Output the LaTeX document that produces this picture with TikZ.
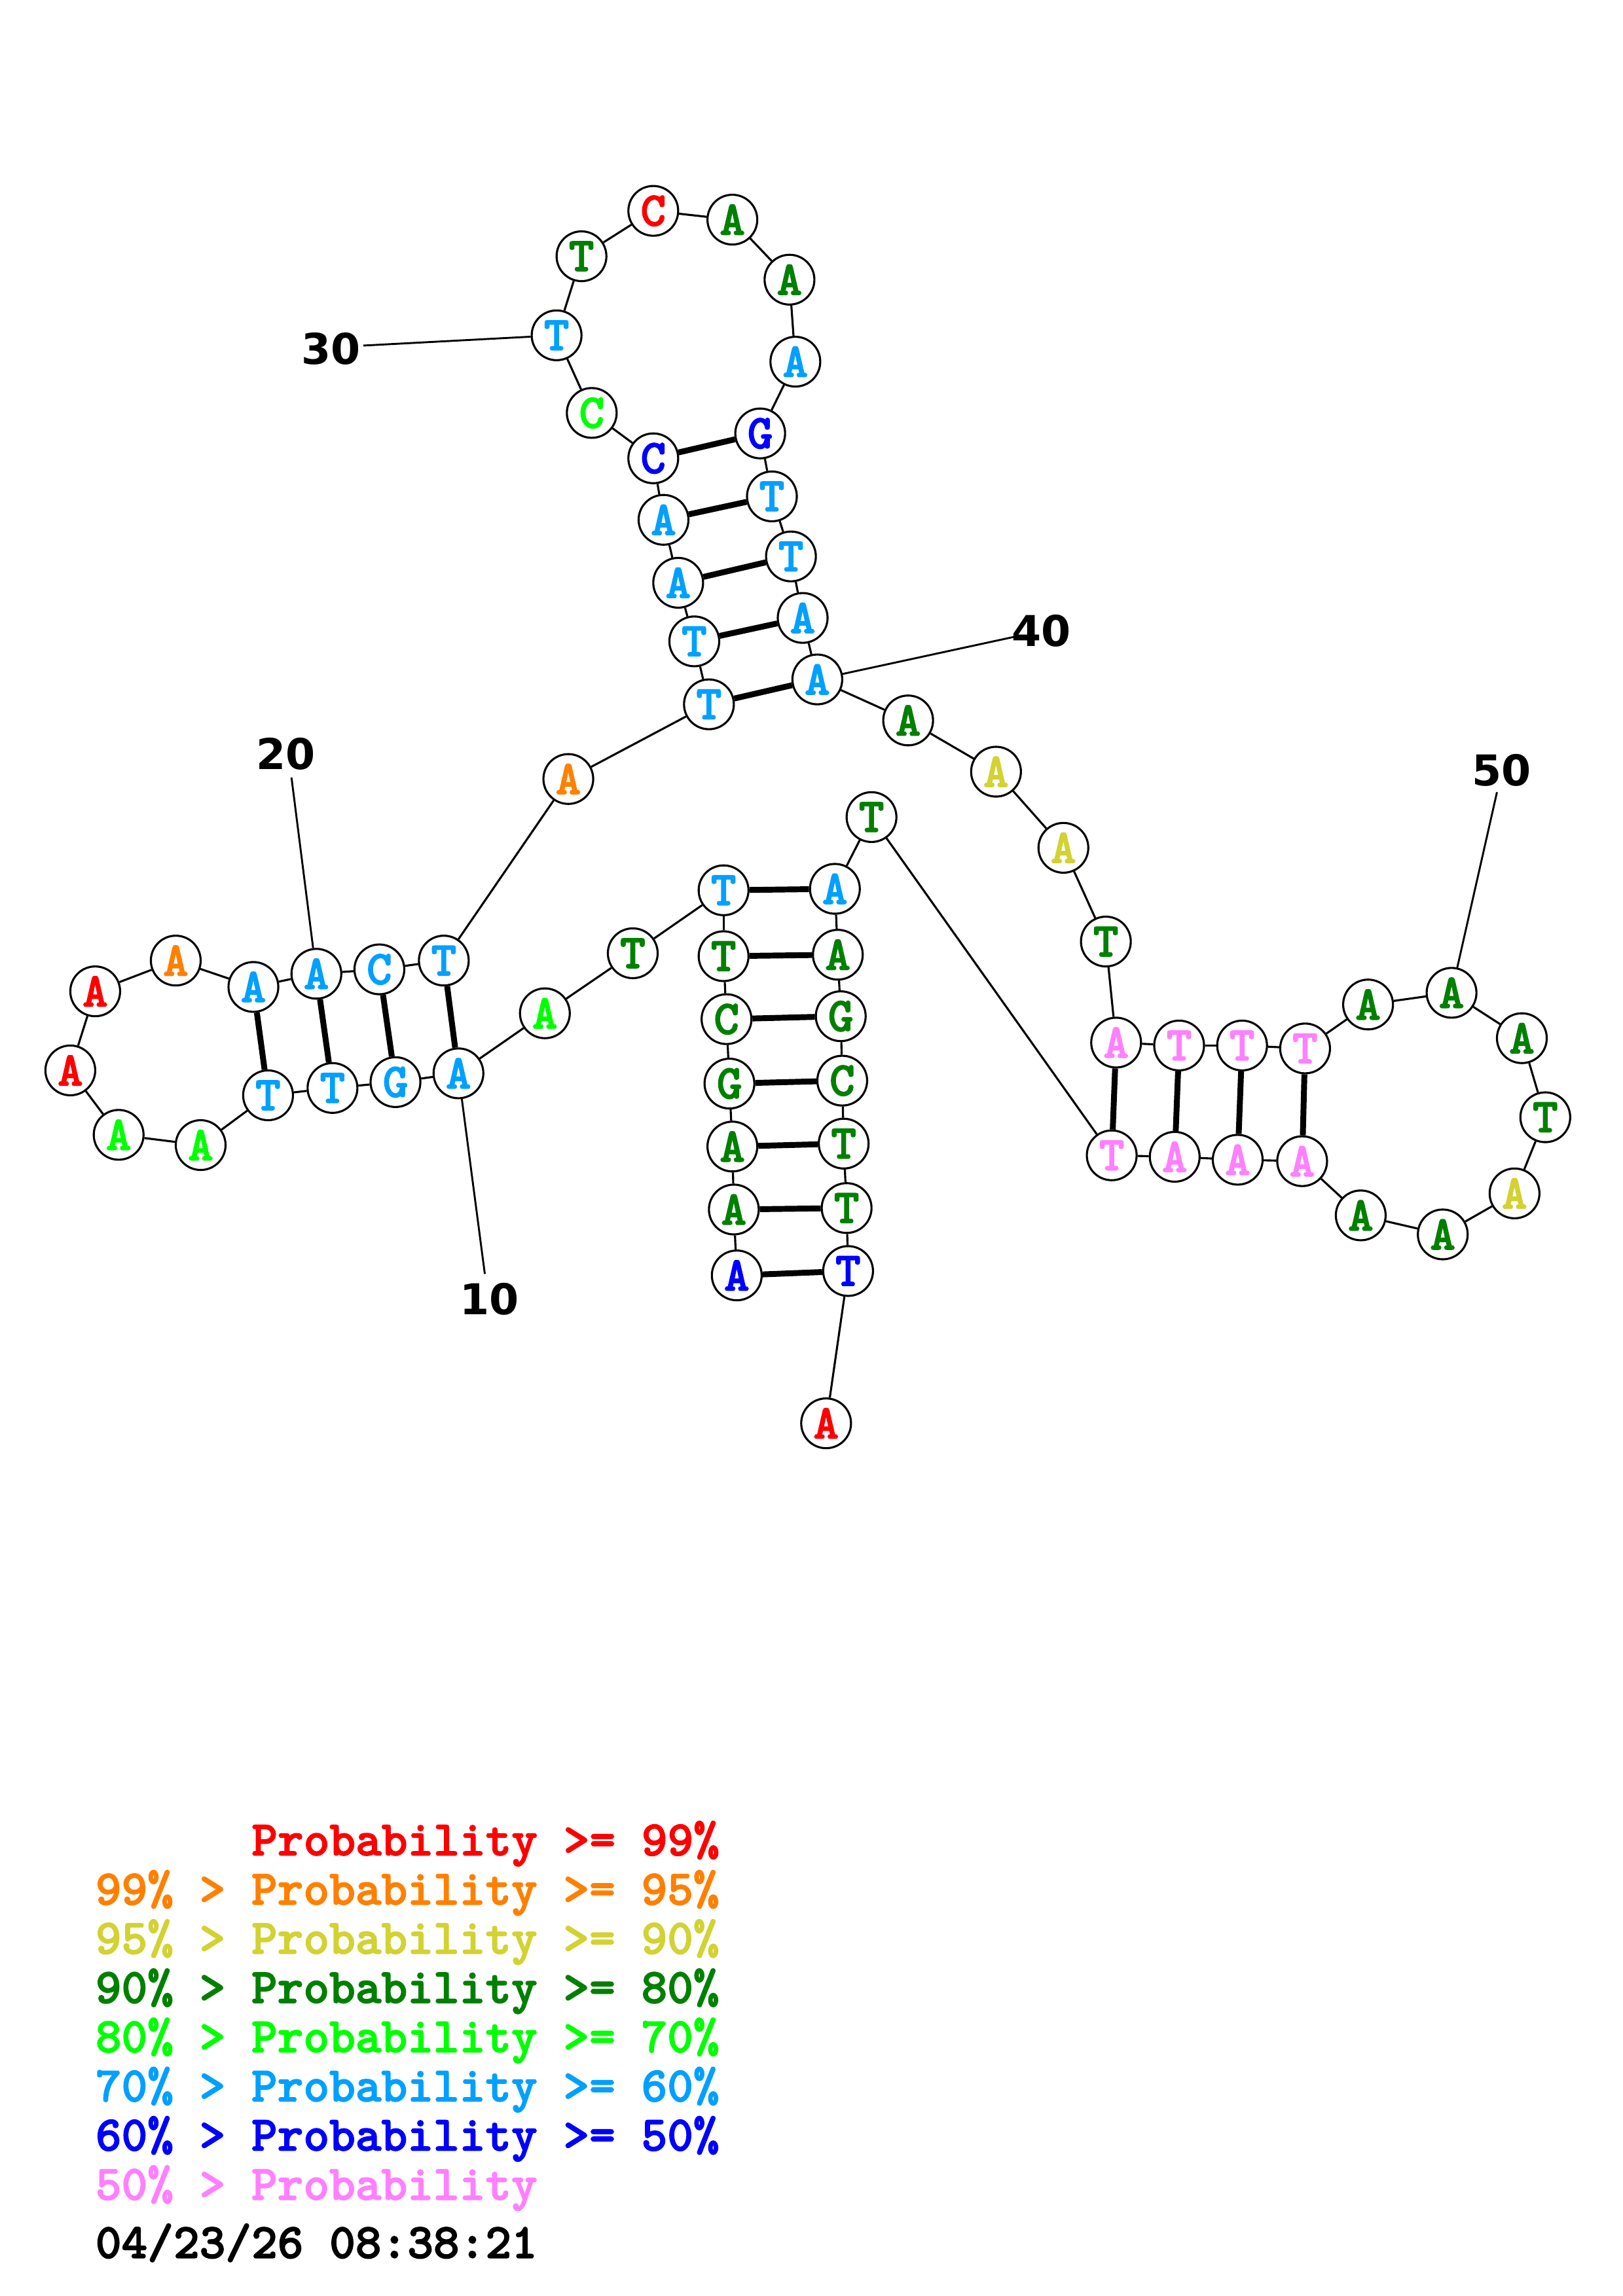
\documentclass[tikz,border=0pt]{standalone}
\usepackage{fontspec}
\newfontfamily\numf{DejaVu Sans}
\newfontfamily\courb{lmmonolt10-bold}[Extension=.otf,FakeBold=2]
\definecolor{cR}{RGB}{255,0,0}
\definecolor{cO}{RGB}{255,128,0}
\definecolor{cY}{RGB}{210,210,50}
\definecolor{cDG}{RGB}{0,128,0}
\definecolor{cG}{RGB}{0,255,0}
\definecolor{cLB}{RGB}{0,160,255}
\definecolor{cB}{RGB}{0,0,255}
\definecolor{cP}{RGB}{255,128,255}
\tikzset{
  nt/.style={circle,draw=black,line width=1.4pt,fill=white,minimum size=34pt,inner sep=0pt,
    font=\courb\fontsize{33}{33}\selectfont},
  bb/.style={line width=1.4pt,black},
  pairl/.style={line width=4pt,black},
  lbl/.style={line width=1.3pt,black},
  numl/.style={font=\numf\bfseries\fontsize{29}{29}\selectfont,inner sep=0pt},
  leg/.style={font=\courb\fontsize{33.8}{33.8}\selectfont,inner sep=0pt,anchor=base west}
}
\begin{document}
\begin{tikzpicture}[x=1pt,y=-1pt]
\useasboundingbox[fill=white] (0,0) rectangle (1108,1568);
\foreach \i/\x/\y/\b/\c in {
1/503/871/A/cB, 2/501/826/A/cDG, 3/500/783/A/cDG, 4/498/740/G/cDG, 5/496/696/C/cDG,
6/494/653/T/cDG, 7/494/608/T/cLB, 8/432/651/T/cDG, 9/372/692/A/cG, 10/313/733/A/cLB,
11/270/739/G/cLB, 12/227/743/T/cLB, 13/183/748/T/cLB, 14/137/782/A/cG, 15/81/775/A/cG,
16/48/731/A/cR, 17/65/677/A/cR, 18/120/656/A/cO, 19/173/674/A/cLB, 20/216/665/A/cLB,
21/259/662/C/cLB, 22/303/656/T/cLB, 23/388/532/A/cO, 24/484/481/T/cLB, 25/474/438/T/cLB,
26/463/398/A/cLB, 27/453/355/A/cLB, 28/446/313/C/cB, 29/404/282/C/cG, 30/380/229/T/cLB,
31/397/175/T/cDG, 32/446/144/C/cR, 33/500/150/A/cDG, 34/539/191/A/cDG, 35/543/247/A/cLB,
36/519/296/G/cB, 37/527/339/T/cLB, 38/540/380/T/cLB, 39/548/422/A/cLB, 40/558/464/A/cLB,
41/620/492/A/cDG, 42/680/527/A/cY, 43/726/579/A/cY, 44/755/643/T/cDG, 45/762/712/A/cP,
46/805/714/T/cP, 47/848/714/T/cP, 48/891/716/T/cP, 49/934/686/A/cDG, 50/991/678/A/cDG,
51/1039/709/A/cDG, 52/1055/763/T/cDG, 53/1034/815/A/cY, 54/985/843/A/cDG, 55/929/830/A/cDG,
56/889/793/A/cP, 57/845/792/A/cP, 58/802/790/A/cP, 59/759/789/T/cP, 60/595/558/T/cDG,
61/570/607/A/cLB, 62/572/652/A/cDG, 63/574/694/G/cDG, 64/575/738/C/cDG, 65/576/781/T/cDG,
66/578/825/T/cDG, 67/579/868/T/cB, 68/564/972/A/cR}
  {\node[nt,text=\c] (n\i) at (\x,\y) {\b};}
\foreach \i in {1,...,67}{
  \pgfmathtruncatemacro\j{\i+1}
  \draw[bb] (n\i) -- (n\j);
}
\foreach \a/\b in {1/67,2/66,3/65,4/64,5/63,6/62,7/61,10/22,11/21,12/20,13/19,
  24/40,25/39,26/38,27/37,28/36,45/59,46/58,47/57,48/56}
  {\draw[pairl] (n\a) -- (n\b);}
% position labels
\coordinate (c10) at (331,870); \node[numl] (l10) at (334,887) {10}; \draw[lbl] (c10) -- (n10);
\coordinate (c20) at (199,531); \node[numl] (l20) at (195,515) {20}; \draw[lbl] (c20) -- (n20);
\coordinate (c30) at (248,236); \node[numl] (l30) at (226,238) {30}; \draw[lbl] (c30) -- (n30);
\coordinate (c40) at (692,435); \node[numl] (l40) at (711,431) {40}; \draw[lbl] (c40) -- (n40);
\coordinate (c50) at (1022,541); \node[numl] (l50) at (1025,526) {50}; \draw[lbl] (c50) -- (n50);
% legend
\node[leg,text=cR] (g1) at (171.6,1267) {Probability >= 99\%};
\node[leg,text=cO] (g2) at (65,1300.6) {99\% > Probability >= 95\%};
\node[leg,text=cY] (g3) at (65,1334.2) {95\% > Probability >= 90\%};
\node[leg,text=cDG] (g4) at (65,1367.8) {90\% > Probability >= 80\%};
\node[leg,text=cG] (g5) at (65,1401.4) {80\% > Probability >= 70\%};
\node[leg,text=cLB] (g6) at (65,1435) {70\% > Probability >= 60\%};
\node[leg,text=cB] (g7) at (65,1468.6) {60\% > Probability >= 50\%};
\node[leg,text=cP] (g8) at (65,1502.2) {50\% > Probability};
\node[leg,text=black] (dt) at (65,1542) {04/23/26 08:38:21};
\end{tikzpicture}
\end{document}
